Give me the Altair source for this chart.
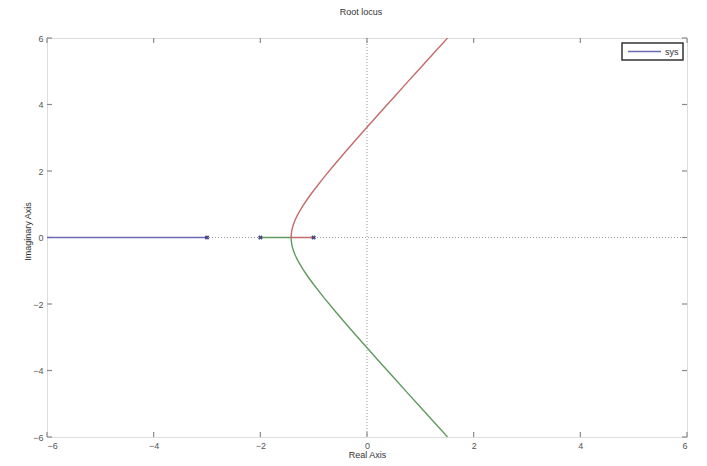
import altair as alt
import pandas as pd

# ---- data ----
axis_ticks = [-6, -4, -2, 0, 2, 4, 6]
poles_x = [-3, -2, -1]
poles_y = [0, 0, 0]

# blue branch (pole at -3 going left along the real axis)
blue_x = [-3.0, -6.0]
blue_y = [0.0, 0.0]

# red branch: from pole -1 to breakaway, then upper half
red_x = [-1.0, -1.2, -1.4226, -1.42, -1.41, -1.40, -1.38, -1.35, -1.3, -1.2, -1.1, -1.0,
         -0.8, -0.6, -0.4, -0.2, 0.0, 0.25, 0.5, 0.75, 1.0, 1.25, 1.51]
red_y = [0.0, 0.0, 0.0, 0.096, 0.210, 0.283, 0.391, 0.517, 0.686, 0.959, 1.196, 1.414,
         1.822, 2.209, 2.585, 2.953, 3.317, 3.767, 4.213, 4.657, 5.099, 5.540, 5.997]

# green branch: from pole -2 to breakaway, then lower half
green_x = [-2.0, -1.7, -1.4226, -1.42, -1.41, -1.40, -1.38, -1.35, -1.3, -1.2, -1.1, -1.0,
           -0.8, -0.6, -0.4, -0.2, 0.0, 0.25, 0.5, 0.75, 1.0, 1.25, 1.51]
green_y = [0.0, 0.0, 0.0, -0.096, -0.210, -0.283, -0.391, -0.517, -0.686, -0.959, -1.196, -1.414,
           -1.822, -2.209, -2.585, -2.953, -3.317, -3.767, -4.213, -4.657, -5.099, -5.540, -5.997]

series_name = "sys"

# ---- build tables ----
def branch(xs, ys, name):
    return pd.DataFrame({"x": xs, "y": ys, "order": list(range(len(xs))), "branch": name})

blue_df = branch(blue_x, blue_y, series_name)
red_df = branch(red_x, red_y, "red")
green_df = branch(green_x, green_y, "green")
poles_df = pd.DataFrame({"x": poles_x, "y": poles_y})
ticks_df = pd.DataFrame({"t": axis_ticks})
zero_df = pd.DataFrame({"z": [0]})
legend_df = pd.DataFrame({"label": [series_name]})

W, H = 640, 399
FONT = "Liberation Sans"
BLUE = "#6b6bb3"
RED = "#c46a6a"
GREEN = "#5f9a5f"

xs = alt.Scale(domain=[-6, 6], nice=False, zero=False)
ys = alt.Scale(domain=[-6, 6], nice=False, zero=False)

x_axis = alt.Axis(values=axis_ticks, title="Real Axis", ticks=False, domain=False, grid=False,
                  labelFontSize=9, labelColor="#555555", labelPadding=4, labelFont=FONT,
                  titleFont=FONT, titleFontSize=9, titleFontWeight="normal", titleColor="#333333",
                  titleY=13, titleBaseline="top")
y_axis = alt.Axis(values=axis_ticks, title="Imaginary Axis", ticks=False, domain=False, grid=False,
                  labelFontSize=9, labelColor="#555555", labelPadding=4, labelFont=FONT,
                  titleFont=FONT, titleFontSize=9, titleFontWeight="normal", titleColor="#333333",
                  titleX=-20, titleY=193, titleAngle=270, titleBaseline="middle")

base_x = alt.X("x:Q", scale=xs, axis=x_axis)
base_y = alt.Y("y:Q", scale=ys, axis=y_axis)

# dotted zero lines
vzero = alt.Chart(zero_df).mark_rule(color="#9a9a9a", strokeDash=[1, 2], strokeWidth=1).encode(
    x=alt.X("z:Q", scale=xs, axis=x_axis))
hzero = alt.Chart(zero_df).mark_rule(color="#9a9a9a", strokeDash=[1, 2], strokeWidth=1).encode(
    y=alt.Y("z:Q", scale=ys, axis=y_axis))

# inward ticks on all four sides
tick_style = dict(color="#8a8a8a", strokeWidth=1.2)
t_bottom = alt.Chart(ticks_df).mark_rule(**tick_style).encode(
    x=alt.X("t:Q", scale=xs, axis=x_axis), y=alt.value(H), y2=alt.value(H - 5))
t_top = alt.Chart(ticks_df).mark_rule(**tick_style).encode(
    x=alt.X("t:Q", scale=xs, axis=x_axis), y=alt.value(0), y2=alt.value(5))
t_left = alt.Chart(ticks_df).mark_rule(**tick_style).encode(
    y=alt.Y("t:Q", scale=ys, axis=y_axis), x=alt.value(0), x2=alt.value(5))
t_right = alt.Chart(ticks_df).mark_rule(**tick_style).encode(
    y=alt.Y("t:Q", scale=ys, axis=y_axis), x=alt.value(W), x2=alt.value(W - 5))

blue_line = alt.Chart(blue_df).mark_line(strokeWidth=1.4, color=BLUE, clip=True).encode(
    x=base_x, y=base_y, order="order:Q")
red_line = alt.Chart(red_df).mark_line(strokeWidth=1.4, color=RED, clip=True).encode(
    x=base_x, y=base_y, order="order:Q")
green_line = alt.Chart(green_df).mark_line(strokeWidth=1.4, color=GREEN, clip=True).encode(
    x=base_x, y=base_y, order="order:Q")

poles = alt.Chart(poles_df).mark_point(shape="cross", angle=45, size=22, filled=True,
                                       color="#3c3c7a", opacity=0.9).encode(x=base_x, y=base_y)

# legend box (top-right, inside the axes)
leg_box = alt.Chart(legend_df).mark_rect(fill="white", stroke="#333333", strokeWidth=1.5).encode(
    x=alt.value(575), x2=alt.value(636), y=alt.value(5), y2=alt.value(22))
leg_line = alt.Chart(legend_df).mark_rule(color=BLUE, strokeWidth=1.4).encode(
    x=alt.value(581), x2=alt.value(614), y=alt.value(13.5))
leg_text = alt.Chart(legend_df).mark_text(font=FONT, fontSize=9, color="#333333", align="left",
                                          baseline="middle").encode(
    x=alt.value(618), y=alt.value(13.5), text="label:N")

chart = alt.layer(
    vzero, hzero, t_bottom, t_top, t_left, t_right,
    blue_line, green_line, red_line, poles,
    leg_box, leg_line, leg_text
).properties(
    width=W, height=H,
    title=alt.TitleParams("Root locus", font=FONT, fontSize=9, fontWeight="normal",
                          color="#333333", anchor="middle", offset=17, dx=-6),
    autosize=alt.AutoSizeParams(type="none"),
    padding={"left": 39, "top": 30, "right": 12, "bottom": 28},
).configure_view(
    stroke="#8a8a8a", strokeWidth=1.5
).configure(background="white")

chart.save("out.html", embed_options={"renderer": "svg", "actions": False})
